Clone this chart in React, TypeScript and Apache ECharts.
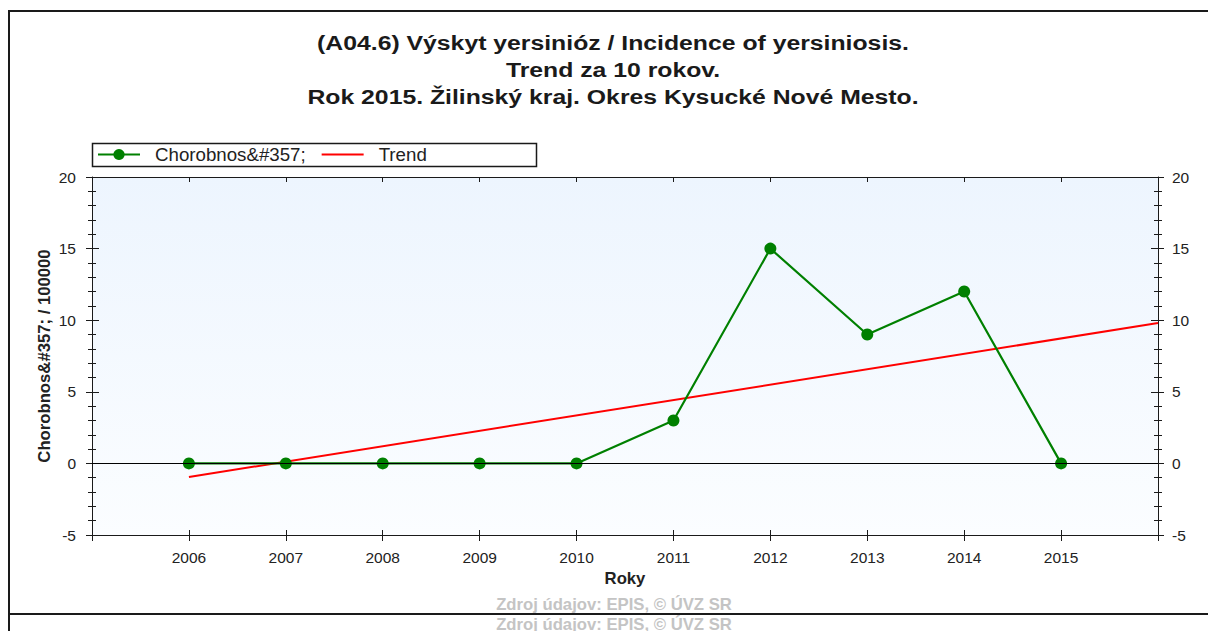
import React, { useEffect, useRef } from "react";
import * as echarts from "echarts";

// ---- data ----
const years = [2006, 2007, 2008, 2009, 2010, 2011, 2012, 2013, 2014, 2015];
const incidence = [0, 0, 0, 0, 0, 3, 15, 9, 12, 0];
const trendYears = [2006, 2016];
const trendValues = [-0.95, 9.8];
const seriesNames = ["Chorobnos&#357;", "Trend"];
const titleLines = [
  "(A04.6) Výskyt yersinióz / Incidence of yersiniosis.",
  "Trend za 10 rokov.",
  "Rok 2015. Žilinský kraj. Okres Kysucké Nové Mesto.",
];
const yTitle = "Chorobnos&#357; / 100000";
const xTitle = "Roky";
const sourceText = "Zdroj údajov: EPIS, © ÚVZ SR";
const xRange = [2005, 2016];
const yRange = [-5, 20];
const yStep = 5;

const FONT = "'Liberation Sans', Arial, sans-serif";
const INK = "#1a1a1a";

export default function App() {
  const ref = useRef<HTMLDivElement>(null);

  useEffect(() => {
    if (!ref.current) return;
    const chart = echarts.init(ref.current, null, { renderer: "svg" });

    const lineStyle = { color: INK, width: 1 };
    const xBase: any = {
      type: "value",
      min: xRange[0],
      max: xRange[1],
      interval: 1,
      splitLine: { show: false },
    };
    const yBase: any = {
      type: "value",
      min: yRange[0],
      max: yRange[1],
      interval: yStep,
      splitLine: { show: false },
    };
    const tickLabel = { fontSize: 15.5, fontFamily: FONT, color: "#222" };
    const boldName = { fontSize: 16.7, fontWeight: "bold", fontFamily: FONT, color: "#222" };

    const option: any = {
      animation: false,
      backgroundColor: "#ffffff",
      grid: {
        left: 92,
        right: 50,
        top: 177,
        bottom: 96,
        show: true,
        borderWidth: 0,
        backgroundColor: new echarts.graphic.LinearGradient(0, 0, 0, 1, [
          { offset: 0, color: "#edf5fe" },
          { offset: 1, color: "#fbfdff" },
        ]),
      },
      legend: {
        left: 97,
        top: 145,
        padding: 0,
        itemWidth: 42,
        itemHeight: 14,
        itemGap: 15,
        data: seriesNames,
        textStyle: { fontSize: 18.7, fontFamily: FONT, color: "#222", padding: [0, 0, 0, 10] },
      },
      xAxis: [
        {
          ...xBase,
          position: "bottom",
          axisLine: { show: true, onZero: false, lineStyle },
          axisTick: { show: true, length: 6, lineStyle },
          axisLabel: {
            ...tickLabel,
            margin: 14,
            formatter: (v: number) => (years.indexOf(v) >= 0 ? String(v) : ""),
          },
          name: xTitle,
          nameLocation: "middle",
          nameGap: 35,
          nameMoveOverlap: false,
          nameTextStyle: boldName,
        },
        {
          ...xBase,
          position: "bottom",
          axisLine: { show: false, onZero: false },
          axisTick: { show: true, inside: true, length: 5, lineStyle },
          axisLabel: { show: false },
        },
        {
          ...xBase,
          position: "top",
          axisLine: { show: true, onZero: false, lineStyle },
          axisTick: { show: true, inside: true, length: 5, lineStyle },
          axisLabel: { show: false },
        },
      ],
      yAxis: [
        {
          ...yBase,
          position: "left",
          axisLine: { show: true, onZero: false, lineStyle },
          axisTick: { show: true, length: 6, lineStyle },
          minorTick: { show: true, splitNumber: 5, length: 4, lineStyle },
          axisLabel: { ...tickLabel, margin: 16 },
          name: yTitle,
          nameLocation: "middle",
          nameGap: 39,
          nameMoveOverlap: false,
          nameTextStyle: boldName,
        },
        {
          ...yBase,
          position: "left",
          axisLine: { show: false, onZero: false },
          axisTick: { show: true, inside: true, length: 7, lineStyle },
          minorTick: { show: true, splitNumber: 5, length: 4, lineStyle },
          axisLabel: { show: false },
        },
        {
          ...yBase,
          position: "right",
          axisLine: { show: true, onZero: false, lineStyle },
          axisTick: { show: true, length: 6, lineStyle },
          minorTick: { show: true, splitNumber: 5, length: 4, lineStyle },
          axisLabel: { ...tickLabel, margin: 14 },
        },
        {
          ...yBase,
          position: "right",
          axisLine: { show: false, onZero: false },
          axisTick: { show: true, inside: true, length: 7, lineStyle },
          minorTick: { show: true, splitNumber: 5, length: 4, lineStyle },
          axisLabel: { show: false },
        },
      ],
      series: [
        {
          name: seriesNames[1],
          type: "line",
          xAxisIndex: 0,
          yAxisIndex: 0,
          z: 2,
          symbol: "line",
          showSymbol: false,
          data: trendYears.map((y, i) => [y, trendValues[i]]),
          lineStyle: { color: "#ff0000", width: 2 },
          itemStyle: { color: "#ff0000" },
          markLine: {
            silent: true,
            symbol: "none",
            label: { show: false },
            lineStyle: { color: "#000", width: 1.2, type: "solid" },
            data: [{ yAxis: 0 }],
          },
        },
        {
          name: seriesNames[0],
          type: "line",
          xAxisIndex: 0,
          yAxisIndex: 0,
          z: 3,
          symbol: "circle",
          symbolSize: 12,
          data: years.map((y, i) => [y, incidence[i]]),
          lineStyle: { color: "#008000", width: 2.2 },
          itemStyle: { color: "#008000" },
        },
      ],
      graphic: [
        {
          type: "rect",
          z: 0,
          silent: true,
          shape: { x: 9, y: 11, width: 1400, height: 603 },
          style: { fill: "none", stroke: INK, lineWidth: 2 },
        },
        {
          type: "line",
          silent: true,
          shape: { x1: 9, y1: 614, x2: 9, y2: 660 },
          style: { stroke: INK, lineWidth: 2 },
        },
        {
          type: "rect",
          z: 1,
          silent: true,
          shape: { x: 92.5, y: 143.5, width: 444, height: 23 },
          style: { fill: "#ffffff", stroke: INK, lineWidth: 1.5 },
        },
        ...titleLines.map((t, i) => ({
          type: "text",
          silent: true,
          x: 613,
          y: 43 + i * 27,
          scaleX: 1.18,
          style: {
            text: t,
            textAlign: "center",
            textVerticalAlign: "middle",
            fontSize: 21,
            fontWeight: "bold",
            fontFamily: FONT,
            fill: "#1a1a1a",
          },
        })),
        ...[604, 624].map((y) => ({
          type: "text",
          silent: true,
          x: 614,
          y,
          style: {
            text: sourceText,
            textAlign: "center",
            textVerticalAlign: "middle",
            fontSize: 16.7,
            fontWeight: "bold",
            fontFamily: FONT,
            fill: "#c4c4c4",
          },
        })),
      ],
    };

    chart.setOption(option);
    return () => chart.dispose();
  }, []);

  return (
    <div
      ref={ref}
      style={{ position: "fixed", left: 0, top: 0, width: 1208, height: 631 }}
    />
  );
}
